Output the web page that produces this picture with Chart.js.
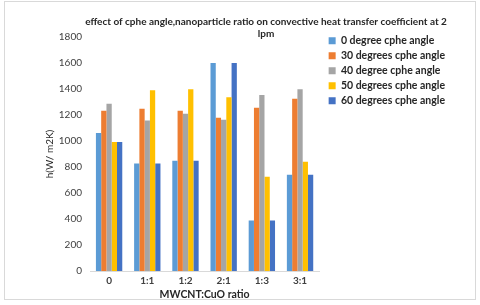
<!DOCTYPE html>
<html>
<head>
<meta charset="utf-8">
<script src="https://cdn.jsdelivr.net/npm/chart.js@4.4.1/dist/chart.umd.min.js"></script>
<style>
  html, body { margin: 0; padding: 0; background: #fff; }
  .frame { position: absolute; left: 4px; top: 1px; width: 470px; height: 297px; border: 1px solid #d9d9d9; }
  #chart { position: absolute; left: 0; top: 0; }
</style>
</head>
<body>
<div class="frame"></div>
<canvas id="chart" width="480" height="305"></canvas>
<script>
// categories (MWCNT:CuO ratio)
const ratios = ['0', '1:1', '1:2', '2:1', '1:3', '3:1'];

// h values (W/m2K) per cphe angle
const deg0 = [1062, 826, 849, 1600, 388, 741];
const deg30 = [1232, 1248, 1232, 1178, 1255, 1325];
const deg40 = [1286, 1157, 1209, 1163, 1353, 1399];
const deg50 = [993, 1391, 1399, 1337, 725, 841];
const deg60 = [993, 826, 849, 1600, 388, 741];

const yTicks = [0, 200, 400, 600, 800, 1000, 1200, 1400, 1600, 1800];

const font = "Lato, 'Liberation Sans', sans-serif";

// nudge title and legend to where the original has them
const nudge = {
  id: 'nudge',
  afterLayout(chart) {
    if (chart.titleBlock) {
      chart.titleBlock.left += 19;
      chart.titleBlock.right += 19;
    }
    if (chart.legend) {
      chart.legend.left += 5;
      chart.legend.right += 5;
      chart.legend.top -= 6;
      chart.legend.bottom -= 6;
    }
  }
};

const ctx = document.getElementById('chart').getContext('2d');
new Chart(ctx, {
  type: 'bar',
  data: {
    labels: ratios,
    datasets: [
      { label: '0 degree cphe angle', data: deg0, backgroundColor: '#5B9BD5' },
      { label: '30 degrees cphe angle', data: deg30, backgroundColor: '#ED7D31' },
      { label: '40 degree cphe angle', data: deg40, backgroundColor: '#A5A5A5' },
      { label: '50 degrees cphe angle', data: deg50, backgroundColor: '#FFC000' },
      { label: '60 degrees cphe angle', data: deg60, backgroundColor: '#4472C4' }
    ]
  },
  plugins: [nudge],
  options: {
    responsive: false,
    animation: false,
    datasets: {
      bar: { categoryPercentage: 0.69, barPercentage: 1.0 }
    },
    layout: { padding: { left: 44, right: 30, top: 8, bottom: 4 } },
    plugins: {
      title: {
        display: true,
        text: ['effect of cphe angle,nanoparticle ratio on convective heat transfer coefficient at 2', 'lpm'],
        font: { family: font, size: 10, weight: 'bold' },
        color: '#262626',
        padding: { top: 8, bottom: -3 },
        lineHeight: 1.25
      },
      legend: {
        position: 'right',
        align: 'start',
        fullSize: false,
        maxWidth: 140,
        labels: {
          boxWidth: 7,
          boxHeight: 7,
          padding: 4.5,
          color: '#262626',
          font: { family: font, size: 10.5, weight: 'bold' }
        }
      },
      tooltip: { enabled: false }
    },
    scales: {
      x: {
        afterFit: scale => { scale.height = 30; },
        grid: { display: false, drawTicks: false },
        border: { color: '#d9d9d9' },
        ticks: { color: '#404040', padding: 4, font: { family: font, size: 10, weight: 'bold' } },
        title: {
          display: true,
          text: 'MWCNT:CuO ratio',
          color: '#262626',
          padding: { top: -3, bottom: 0 },
          font: { family: font, size: 10.5, weight: 'bold' }
        }
      },
      y: {
        min: 0,
        max: 1800,
        afterFit: scale => { scale.width = 46; },
        afterBuildTicks: axis => { axis.ticks = yTicks.map(v => ({ value: v })); },
        grid: { display: false, drawTicks: false },
        border: { display: false },
        ticks: { color: '#404040', padding: 8, font: { family: font, size: 10 }, callback: v => String(v) },
        title: {
          display: true,
          text: 'h(W/ m2K)',
          color: '#262626',
          padding: { top: 0, bottom: 4 },
          font: { family: font, size: 10 }
        }
      }
    }
  }
});
</script>
</body>
</html>
